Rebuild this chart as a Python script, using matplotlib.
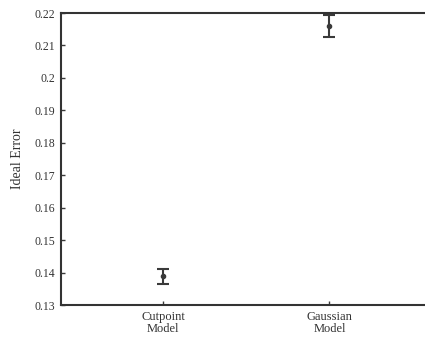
import matplotlib
matplotlib.use("Agg")
import matplotlib.pyplot as plt

categories = ["Cutpoint\nModel", "Gaussian\nModel"]
means = [0.1389, 0.2160]
errors = [0.0023, 0.0034]
yticks = [0.13, 0.14, 0.15, 0.16, 0.17, 0.18, 0.19, 0.2, 0.21, 0.22]
ytick_labels = ["0.13", "0.14", "0.15", "0.16", "0.17", "0.18", "0.19", "0.2", "0.21", "0.22"]

plt.rcParams['font.family'] = ['Liberation Serif', 'DejaVu Serif']

fig = plt.figure(figsize=(4.25, 3.37), dpi=100)
ax = fig.add_axes([61/425, 1-305/337, (425-61)/425 + 0.01, (305-13)/337])

x = [1, 2]
col = '#3a3a3a'
ax.errorbar(x, means, yerr=errors, fmt='o', color=col, ecolor=col,
            markersize=3, elinewidth=1.5, capsize=4, capthick=1.5)

ax.set_xlim(0.386, 2.6)
ax.set_ylim(0.13, 0.22)
ax.set_xticks(x)
ax.set_xticklabels(categories, fontsize=9, color='#333333', linespacing=1.0)
ax.set_yticks(yticks)
ax.set_yticklabels(ytick_labels, fontsize=8.5, color='#333333')
ax.set_ylabel("Ideal Error", fontsize=10, color='#333333', labelpad=8)

ax.tick_params(direction='in', length=3, width=1, color=col, pad=4)
for s in ['left', 'bottom', 'top']:
    ax.spines[s].set_linewidth(1.5)
    ax.spines[s].set_color('#333333')
ax.spines['right'].set_visible(False)

fig.savefig("out.png", dpi=100)
